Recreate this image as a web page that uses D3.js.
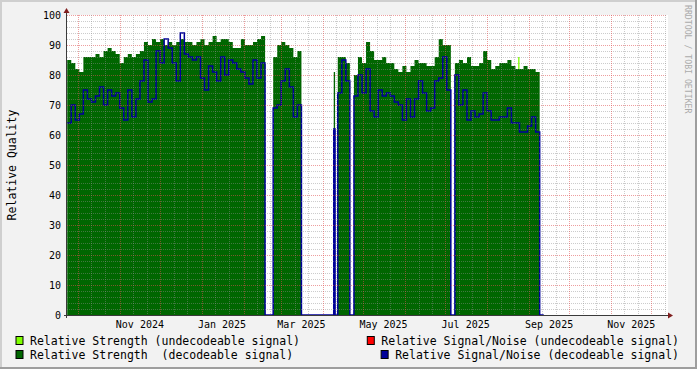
<!DOCTYPE html>
<html>
<head>
<meta charset="utf-8">
<script src="https://cdnjs.cloudflare.com/ajax/libs/d3/7.8.5/d3.min.js"></script>
<style>
  body { margin: 0; background: #f2f2f2; }
  svg { display: block; }
  text { font-family: "DejaVu Sans Mono", monospace; white-space: pre; }
</style>
</head>
<body>
<script>
// one value every 3 days, starting at startDate (0 = no signal / gap)
var startDate = "2024-09-23";
var stepDays = 3;

var strength = [
  85, 84, 82, 81, 86, 86, 86, 87, 86, 88,
  89, 88, 87, 84, 86, 87, 86, 87, 88, 91,
  90, 92, 91, 92, 90, 91, 90, 91, 92, 91,
  91, 90, 91, 92, 90, 91, 93, 91, 92, 92,
  91, 89, 89, 92, 90, 90, 91, 92, 93, 0,
  0, 86, 90, 91, 90, 89, 86, 88, 0, 0,
  0, 0, 0, 0, 0, 0, 0, 86, 86, 84,
  0, 80, 86, 84, 91, 88, 85, 85, 86, 84,
  84, 82, 81, 83, 81, 83, 85, 84, 84, 83,
  83, 86, 92, 90, 90, 0, 84, 85, 84, 86,
  83, 83, 84, 88, 85, 82, 83, 84, 84, 85,
  83, 82, 82, 83, 82, 82, 81, 0
];

var signalNoise = [
  64, 70, 65, 67, 75, 72, 71, 73, 76, 70,
  75, 73, 74, 69, 65, 75, 66, 72, 78, 85,
  71, 72, 88, 84, 92, 89, 84, 78, 94, 87,
  86, 85, 86, 79, 75, 83, 81, 78, 86, 80,
  85, 84, 82, 81, 79, 77, 85, 79, 84, 0,
  0, 69, 70, 78, 82, 76, 66, 70, 0, 0,
  0, 0, 0, 0, 0, 0, 0, 74, 85, 78,
  0, 73, 80, 74, 82, 68, 66, 75, 73, 74,
  73, 71, 70, 65, 72, 66, 72, 78, 74, 68,
  69, 78, 79, 86, 75, 0, 80, 70, 75, 65,
  68, 66, 67, 74, 68, 65, 65, 66, 66, 69,
  64, 64, 61, 61, 63, 66, 61, 0
];

// isolated single-day reading inside the spring gap
var spikeDates = ["2025-04-09"];
var spikeStrength = [81];
var spikeSignalNoise = [62];

// single day where the signal was not decodeable
var undecodeableDates = ["2025-08-24"];
var undecodeableValues = [86];

var yTicks = [0, 10, 20, 30, 40, 50, 60, 70, 80, 90, 100];
var xLabels = ["Nov 2024", "Jan 2025", "Mar 2025", "May 2025", "Jul 2025", "Sep 2025", "Nov 2025"];

var legendLabels = [
  "Relative Strength (undecodeable signal)",
  "Relative Signal/Noise (undecodeable signal)",
  "Relative Strength  (decodeable signal)",
  "Relative Signal/Noise (decodeable signal)"
];
var legendColors = ["#7fff00", "#ff0000", "#006600", "#000099"];

var W = 697, H = 369;
var x0 = 67, x1 = 667, yTop = 15, yBot = 315;

var parseDay = d3.timeParse("%Y-%m-%d");
var parseMonth = d3.timeParse("%b %Y");
var t0 = new Date(2024, 8, 22, 20);
var t1 = d3.timeHour.offset(t0, 10698);

var x = d3.scaleTime().domain([t0, t1]).range([x0, x1]);
var y = d3.scaleLinear().domain([0, 100]).range([yBot, yTop]);

var start = parseDay(startDate);
function series(vals, extraVals) {
  var pts = vals.map(function (v, i) { return { t: d3.timeDay.offset(start, i * stepDays), v: v, k: 0 }; });
  pts.push({ t: d3.timeDay.offset(start, vals.length * stepDays), v: vals[vals.length - 1], k: 0 });
  spikeDates.forEach(function (d, j) {
    var t = parseDay(d);
    pts.push({ t: t, v: extraVals[j], k: 1 });
    pts.push({ t: d3.timeDay.offset(t, 1), v: 0, k: 1 });
  });
  pts.sort(function (a, b) { return (a.t - b.t) || (a.k - b.k); });
  return pts;
}
var strPts = series(strength, spikeStrength);
var snPts = series(signalNoise, spikeSignalNoise);

var svg = d3.select("body").append("svg").attr("width", W).attr("height", H);

// background + 3D frame
svg.append("rect").attr("width", W).attr("height", H).attr("fill", "#f2f2f2");
svg.append("path").attr("d", "M0,0H" + W + "V2H2V" + H + "H0Z").attr("fill", "#cfcfcf");
svg.append("path").attr("d", "M" + W + ",0V" + H + "H0V" + (H - 2) + "H" + (W - 2) + "V0Z").attr("fill", "#9e9e9e");

// canvas
svg.append("rect").attr("x", x0).attr("y", yTop).attr("width", x1 - x0 + 1).attr("height", yBot - yTop).attr("fill", "#fff");

// undecodeable strength
undecodeableDates.forEach(function (d, i) {
  var t = parseDay(d);
  svg.append("rect")
    .attr("x", x(t)).attr("width", x(d3.timeDay.offset(t, 1)) - x(t))
    .attr("y", y(undecodeableValues[i])).attr("height", yBot - y(undecodeableValues[i]))
    .attr("fill", legendColors[0]);
});

// decodeable strength area
svg.append("path")
  .datum(strPts)
  .attr("fill", "#006600")
  .attr("d", d3.area().curve(d3.curveStepAfter)
    .x(function (d) { return x(d.t); })
    .y0(yBot)
    .y1(function (d) { return y(d.v); }));

// decodeable signal/noise line
svg.append("path")
  .datum(snPts)
  .attr("fill", "none")
  .attr("stroke", "#000099")
  .attr("stroke-width", 1.5)
  .attr("d", d3.line().curve(d3.curveStepAfter)
    .x(function (d) { return x(d.t); })
    .y(function (d) { return y(d.v); }));

// grid on top
var grid = svg.append("g").attr("stroke-dasharray", "1,1").attr("stroke-width", 1);
var minorCol = "rgba(143,143,143,0.45)", majorCol = "rgba(222,79,79,0.55)";

d3.range(0, 101, 2).forEach(function (v) {
  if (v === 0) return;
  var yy = Math.round(y(v)) + 0.5;
  grid.append("line").attr("x1", x0).attr("x2", x1).attr("y1", yy).attr("y2", yy)
    .attr("stroke", v % 10 === 0 ? majorCol : minorCol);
});

d3.timeDay.range(t0, t1).forEach(function (d) {
  var day = d.getDate();
  if (day !== 1 && day !== 11 && day !== 21) return;
  var xx = Math.round(x(d)) + 0.5;
  grid.append("line").attr("x1", xx).attr("x2", xx).attr("y1", yTop).attr("y2", yBot)
    .attr("stroke", day === 1 ? majorCol : minorCol);
});

// axes
var axisCol = "#3a3a3a", arrowCol = "#801f1f";
svg.append("line").attr("x1", x0 - 0.5).attr("x2", x0 - 0.5).attr("y1", yBot + 3).attr("y2", yTop - 4)
  .attr("stroke", axisCol);
svg.append("line").attr("x1", x0 - 3).attr("x2", x1 + 3).attr("y1", yBot + 0.5).attr("y2", yBot + 0.5)
  .attr("stroke", axisCol);
svg.append("path").attr("d", "M" + (x0 - 0.5) + "," + (yTop - 7) + "L" + (x0 - 3.5) + "," + (yTop - 2) +
  "L" + (x0 + 2.5) + "," + (yTop - 2) + "Z").attr("fill", arrowCol);
svg.append("path").attr("d", "M" + (x1 + 6) + "," + (yBot + 0.5) + "L" + (x1 + 1) + "," + (yBot - 2.5) +
  "L" + (x1 + 1) + "," + (yBot + 3.5) + "Z").attr("fill", arrowCol);

// y labels
svg.append("g").selectAll("text").data(yTicks).enter().append("text")
  .attr("x", 61).attr("y", function (d) { return y(d) + 3.5; })
  .attr("text-anchor", "end").attr("font-size", "10px").attr("fill", "#000")
  .text(function (d) { return d; });

// x labels, centred in the middle of their month
svg.append("g").selectAll("text").data(xLabels).enter().append("text")
  .attr("x", function (d) { return x(d3.timeDay.offset(parseMonth(d), 15)); })
  .attr("y", 328).attr("text-anchor", "middle").attr("font-size", "10px").attr("fill", "#000")
  .text(function (d) { return d; });

// axis title
svg.append("text").attr("transform", "translate(16,165) rotate(-90)")
  .attr("text-anchor", "middle").attr("font-size", "11.5px").attr("fill", "#000")
  .text("Relative Quality");

// watermark
svg.append("text").attr("transform", "translate(685,5) rotate(90)")
  .attr("font-size", "8.2px").attr("fill", "#ababab")
  .text("RRDTOOL / TOBI OETIKER");

// legend
var rows = [344.5, 358.5];
legendLabels.forEach(function (lab, i) {
  var row = Math.floor(i / 2), right = i % 2 === 1;
  var t = svg.append("text").attr("y", rows[row]).attr("font-size", "11.5px").attr("fill", "#000").text(lab);
  var tx;
  if (right) {
    t.attr("x", 679).attr("text-anchor", "end");
    tx = t.node().getBBox().x;
  } else {
    t.attr("x", 30);
    tx = 30;
  }
  svg.append("rect").attr("x", tx - 14).attr("y", rows[row] - 8).attr("width", 7).attr("height", 8)
    .attr("fill", legendColors[i]).attr("stroke", "#000").attr("stroke-width", 1);
});
</script>
</body>
</html>
